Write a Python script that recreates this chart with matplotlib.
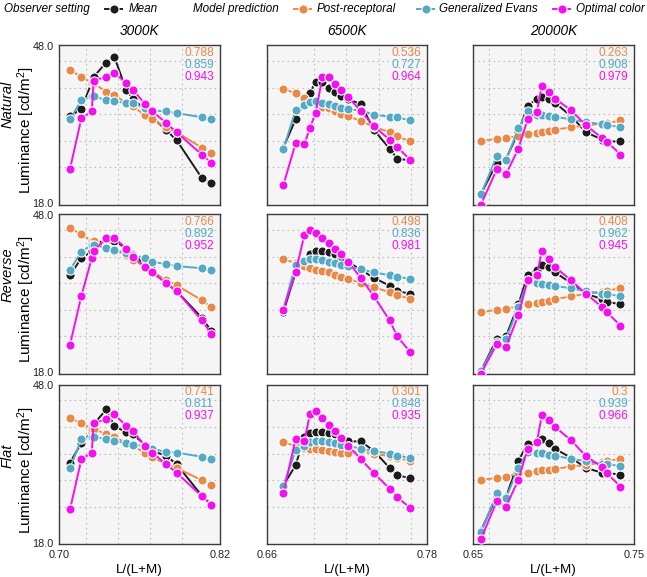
import matplotlib
matplotlib.use("Agg")
import matplotlib.pyplot as plt
import matplotlib.transforms as mtransforms
from matplotlib.lines import Line2D

plt.rcParams["font.family"] = ["Liberation Sans", "DejaVu Sans"]
plt.rcParams["mathtext.fontset"] = "custom"
plt.rcParams["mathtext.rm"] = "Liberation Sans"
plt.rcParams["mathtext.it"] = "Liberation Sans:italic"

# ---------------- data ----------------
illuminants = ["3000K", "6500K", "20000K"]
scenes = ["Natural", "Reverse", "Flat"]
series_names = ["Mean", "Post-receptoral", "Generalized Evans", "Optimal color"]
x_ticklabels = [["0.70", "0.82"], ["0.66", "0.78"], ["0.65", "0.75"]]
y_ticklabels = ["18.0", "48.0"]

x_3000 = [0.7080, 0.7165, 0.7243, 0.7256, 0.7351, 0.7411, 0.7501, 0.7551,
          0.7639, 0.7694, 0.7799, 0.7877, 0.8065, 0.8137]
x_6500 = [0.6724, 0.6816, 0.6881, 0.6923, 0.6965, 0.7017, 0.7067, 0.7114,
          0.7159, 0.7209, 0.7303, 0.7402, 0.7519, 0.7576, 0.7673]
x_20000 = [0.6548, 0.6646, 0.6704, 0.6781, 0.6838, 0.6896, 0.6927, 0.6969,
           0.7010, 0.7110, 0.7202, 0.7302, 0.7333, 0.7417]

# Natural
mean_natural_3000 = [34.6, 36.0, 41.0, 42.0, 44.7, 45.8, 39.5, 37.9, 35.9, 34.4, 32.0, 30.1, 23.0, 22.0]
post_natural_3000 = [43.3, 42.0, 40.9, 40.8, 39.2, 38.6, 37.1, 36.5, 34.8, 34.0, 32.5, 31.6, 28.7, 27.6]
evans_natural_3000 = [34.0, 37.6, 38.4, 38.4, 37.6, 37.4, 37.1, 37.0, 36.2, 35.7, 35.5, 35.2, 34.4, 34.0]
optimal_natural_3000 = [24.7, 34.2, 35.5, 41.3, 42.0, 42.8, 40.8, 39.6, 36.9, 35.6, 33.3, 31.6, 27.4, 25.8]

mean_natural_6500 = [28.7, 34.0, 37.0, 38.9, 41.1, 41.0, 40.0, 39.2, 38.5, 37.8, 36.9, 32.0, 28.5, 26.6, 26.3]
post_natural_6500 = [39.8, 38.9, 38.1, 37.3, 37.0, 36.4, 36.1, 35.5, 35.1, 34.6, 33.7, 32.6, 31.6, 30.8, 29.9]
evans_natural_6500 = [28.4, 35.7, 36.7, 37.3, 37.5, 37.1, 36.9, 36.5, 36.2, 35.9, 35.7, 34.9, 34.5, 34.4, 33.8]
optimal_natural_6500 = [21.6, 29.5, 29.3, 32.4, 35.2, 41.9, 41.9, 40.6, 39.5, 38.2, 35.6, 32.7, 30.2, 28.8, 26.4]

mean_natural_20000 = [20.0, 25.8, 26.6, 31.6, 36.5, 37.9, 38.2, 37.8, 37.1, 34.6, 31.6, 30.2, 29.8, 29.9]
post_natural_20000 = [29.9, 30.4, 30.6, 30.8, 31.2, 31.5, 31.6, 31.8, 32.1, 32.5, 32.9, 33.2, 33.3, 33.8]
evans_natural_20000 = [19.9, 27.1, 26.3, 32.3, 35.6, 34.9, 34.8, 34.6, 34.5, 34.0, 33.5, 33.1, 32.9, 32.6]
optimal_natural_20000 = [18.0, 24.6, 23.7, 28.5, 34.0, 35.4, 40.3, 39.2, 37.9, 35.7, 32.9, 30.5, 29.8, 27.4]

# Reverse
mean_reverse_3000 = [36.5, 39.7, 41.0, 42.5, 43.0, 43.0, 41.5, 40.5, 38.5, 37.5, 35.0, 33.5, 28.5, 26.0]
post_reverse_3000 = [45.3, 44.2, 42.9, 42.9, 41.8, 41.2, 40.3, 39.3, 38.2, 37.1, 35.6, 34.6, 31.8, 30.5]
evans_reverse_3000 = [37.5, 40.9, 42.2, 42.2, 41.6, 41.2, 40.7, 40.3, 39.7, 39.0, 38.6, 38.2, 37.8, 37.5]
optimal_reverse_3000 = [23.4, 32.6, 39.7, 41.0, 43.5, 43.5, 41.5, 40.0, 38.0, 37.0, 35.0, 33.5, 28.0, 25.5]

mean_reverse_6500 = [29.5, 37.0, 39.0, 40.5, 41.0, 41.0, 40.8, 40.5, 40.0, 39.0, 37.5, 36.0, 34.5, 33.5, 33.0]
post_reverse_6500 = [39.5, 38.8, 38.2, 37.8, 37.5, 37.2, 37.0, 36.6, 36.2, 35.8, 35.0, 34.2, 33.3, 32.8, 32.0]
evans_reverse_6500 = [30.0, 38.5, 39.2, 39.5, 39.5, 39.3, 39.0, 38.8, 38.5, 38.2, 37.6, 37.0, 36.5, 36.2, 35.8]
optimal_reverse_6500 = [30.0, 37.0, 44.0, 45.0, 44.5, 43.5, 42.5, 41.5, 40.5, 39.0, 36.0, 32.5, 28.0, 25.0, 22.0]

mean_reverse_20000 = [18.5, 24.5, 25.0, 31.0, 36.5, 37.5, 38.5, 38.0, 37.0, 35.0, 33.0, 32.0, 31.5, 31.0]
post_reverse_20000 = [29.5, 30.0, 30.2, 30.6, 31.0, 31.3, 31.5, 31.7, 32.0, 32.5, 33.0, 33.4, 33.6, 34.0]
evans_reverse_20000 = [18.5, 24.0, 24.5, 30.5, 35.5, 35.0, 34.8, 34.6, 34.5, 34.0, 33.5, 33.0, 33.0, 32.5]
optimal_reverse_20000 = [18.0, 23.5, 23.0, 29.0, 35.5, 36.5, 41.0, 39.5, 38.0, 35.5, 33.0, 30.5, 29.5, 27.0]

# Flat
mean_flat_3000 = [33.3, 37.0, 39.0, 40.5, 43.3, 40.2, 39.0, 38.6, 36.7, 35.5, 34.6, 33.0, 27.1, 25.4]
post_flat_3000 = [41.7, 40.7, 39.7, 39.7, 38.6, 38.2, 37.0, 36.4, 35.2, 34.4, 33.0, 32.3, 30.0, 29.1]
evans_flat_3000 = [32.3, 37.7, 38.2, 38.2, 37.7, 37.3, 37.0, 36.7, 36.4, 35.9, 35.3, 35.2, 34.4, 34.0]
optimal_flat_3000 = [24.5, 33.9, 35.2, 40.7, 41.5, 42.4, 40.2, 39.2, 36.5, 35.2, 33.0, 31.4, 27.0, 25.4]

mean_flat_6500 = [29.0, 32.8, 38.2, 38.8, 39.1, 39.1, 38.9, 38.6, 37.8, 37.3, 37.3, 35.5, 32.3, 30.9, 30.4]
post_flat_6500 = [37.2, 36.4, 36.1, 35.8, 35.8, 35.7, 35.5, 35.3, 35.2, 35.2, 35.4, 35.0, 34.5, 34.2, 33.6]
evans_flat_6500 = [28.9, 35.6, 36.4, 37.2, 37.3, 37.3, 37.2, 37.0, 36.7, 36.5, 35.9, 35.5, 35.0, 34.6, 34.2]
optimal_flat_6500 = [27.5, 37.8, 37.3, 42.4, 43.0, 41.7, 40.3, 39.2, 38.0, 36.5, 34.0, 31.3, 28.4, 26.8, 24.8]

mean_flat_20000 = [20.5, 27.0, 26.8, 33.6, 36.9, 37.3, 37.8, 37.0, 35.9, 34.2, 32.3, 31.4, 31.4, 31.0]
post_flat_20000 = [30.1, 30.4, 30.6, 31.3, 31.3, 31.7, 31.9, 32.0, 32.1, 32.6, 32.8, 33.4, 33.6, 34.0]
evans_flat_20000 = [20.2, 27.5, 26.7, 32.3, 35.3, 35.2, 35.1, 34.8, 34.6, 34.0, 33.6, 33.1, 33.1, 32.6]
optimal_flat_20000 = [19.0, 26.0, 25.0, 30.1, 35.8, 37.2, 42.2, 41.3, 40.0, 37.5, 34.5, 32.5, 31.3, 28.8]

# correlation values: rows = scenes, cols = illuminants, [post, evans, optimal]
corr_natural = [["0.788", "0.859", "0.943"], ["0.536", "0.727", "0.964"], ["0.263", "0.908", "0.979"]]
corr_reverse = [["0.766", "0.892", "0.952"], ["0.498", "0.836", "0.981"], ["0.408", "0.962", "0.945"]]
corr_flat = [["0.741", "0.811", "0.937"], ["0.301", "0.848", "0.935"], ["0.3", "0.939", "0.966"]]

# ---------------- style ----------------
colors = ["#1c1c1c", "#E8894A", "#55A9C5", "#F50FF0"]
W, H = 647, 577
col_left = [59.3, 266.7, 473.3]
row_top = [45.0, 214.0, 384.5]
ax_w, ax_h = 160.5, 159.5
xlims = [(0.70, 0.82), (0.66, 0.78), (0.65, 0.75)]
x_grid = [[0.7197, 0.7440, 0.7676, 0.7917],
          [0.6955, 0.7196, 0.7437, 0.7680],
          [0.6600, 0.6800, 0.7000, 0.7200]]
y_grid = [25, 30, 35, 40, 45]

xs = [x_3000, x_6500, x_20000]
data = {
    "Natural": [[mean_natural_3000, post_natural_3000, evans_natural_3000, optimal_natural_3000],
                [mean_natural_6500, post_natural_6500, evans_natural_6500, optimal_natural_6500],
                [mean_natural_20000, post_natural_20000, evans_natural_20000, optimal_natural_20000]],
    "Reverse": [[mean_reverse_3000, post_reverse_3000, evans_reverse_3000, optimal_reverse_3000],
                [mean_reverse_6500, post_reverse_6500, evans_reverse_6500, optimal_reverse_6500],
                [mean_reverse_20000, post_reverse_20000, evans_reverse_20000, optimal_reverse_20000]],
    "Flat": [[mean_flat_3000, post_flat_3000, evans_flat_3000, optimal_flat_3000],
             [mean_flat_6500, post_flat_6500, evans_flat_6500, optimal_flat_6500],
             [mean_flat_20000, post_flat_20000, evans_flat_20000, optimal_flat_20000]],
}
corrs = {"Natural": corr_natural, "Reverse": corr_reverse, "Flat": corr_flat}

fig = plt.figure(figsize=(W / 100, H / 100), dpi=100)

line_kw = dict(marker="o", markersize=6.6, markeredgecolor="white",
               markeredgewidth=0.8, linewidth=1.4)

for r, scene in enumerate(scenes):
    for c, illum in enumerate(illuminants):
        rect = [col_left[c] / W, 1 - (row_top[r] + ax_h) / H, ax_w / W, ax_h / H]
        ax = fig.add_axes(rect)
        ax.set_facecolor("#f5f5f5")
        for s in range(4):
            ax.plot(xs[c], data[scene][c][s], color=colors[s], zorder=3 + s, **line_kw)
        ax.set_xlim(*xlims[c])
        ax.set_ylim(18.0, 48.0)
        ax.set_xticks(list(xlims[c]))
        ax.set_yticks([18.0, 48.0])
        ax.set_xticks(x_grid[c], minor=True)
        ax.set_yticks(y_grid, minor=True)
        ax.grid(which="minor", linestyle=(0, (1.5, 3)), color="#bdbdbd", linewidth=0.8, zorder=0)
        ax.tick_params(which="both", length=0, labelsize=7.8, pad=4, colors="#222222")
        if r == 2:
            ax.set_xticklabels(x_ticklabels[c])
            ax.set_xlabel("L/(L+M)", fontsize=9.6, labelpad=3)
        else:
            ax.set_xticklabels([])
        if c == 0:
            ax.set_yticklabels(y_ticklabels)
            # nudge the stacked end labels apart (18.0 down-baseline, 48.0 baseline)
            shifts = [-2.0, -3.4]  # points
            for lab, dy in zip(ax.get_yticklabels(), shifts):
                lab.set_verticalalignment("baseline")
                lab.set_transform(lab.get_transform() +
                                  mtransforms.ScaledTranslation(0, dy / 72, fig.dpi_scale_trans))
            ylab = ax.set_ylabel("Luminance [cd/m$^2$]", fontsize=11.0)
            ylab.set_verticalalignment("center")
            ax.yaxis.set_label_coords(-33.0 / ax_w, 0.464)
        else:
            ax.set_yticklabels([])
        for sp in ax.spines.values():
            sp.set_color("#3a3a3a")
            sp.set_linewidth(1.0)
        if r == 0:
            ax.set_title(illum, fontsize=9.8, style="italic", pad=7)
        for k in range(3):
            ax.text(0.963, 0.952 - k * 0.0755, corrs[scene][c][k], transform=ax.transAxes,
                    ha="right", va="center", fontsize=8.6, color=colors[k + 1], zorder=10)

# row labels
row_label_y = [104, 275, 456]
for r, scene in enumerate(scenes):
    fig.text(8 / W, 1 - row_label_y[r] / H, scene, rotation=90, ha="center", va="center",
             fontsize=10.5, style="italic")

# legend row
leg_y = 1 - 9 / H
def handle(x0, color):
    fig.add_artist(Line2D([x0 / W, (x0 + 17) / W], [leg_y, leg_y], color=color,
                          linewidth=1.4, transform=fig.transFigure))
    fig.add_artist(Line2D([(x0 + 8.5) / W], [leg_y], color=color, marker="o",
                          markersize=6.6, markeredgecolor="white", markeredgewidth=0.8,
                          linestyle="none", transform=fig.transFigure))

fig.text(4 / W, leg_y, "Observer setting", ha="left", va="center", fontsize=8.4, style="italic")
handle(105, colors[0])
fig.text(129 / W, leg_y, series_names[0], ha="left", va="center", fontsize=8.4, style="italic")
fig.text(193 / W, leg_y, "Model prediction", ha="left", va="center", fontsize=8.4, style="italic")
handle(294, colors[1])
fig.text(317 / W, leg_y, series_names[1], ha="left", va="center", fontsize=8.4, style="italic")
handle(417, colors[2])
fig.text(439 / W, leg_y, series_names[2], ha="left", va="center", fontsize=8.4, style="italic")
handle(553, colors[3])
fig.text(576 / W, leg_y, series_names[3], ha="left", va="center", fontsize=8.4, style="italic")

fig.savefig("out.png", dpi=100)
